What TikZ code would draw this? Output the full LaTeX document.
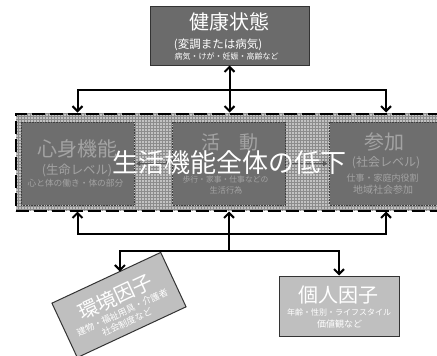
\documentclass[tikz,border=0pt]{standalone}
\usepackage{fontspec}
\setmainfont{Noto Sans CJK JP}
\usetikzlibrary{arrows.meta,patterns}
\newcommand{\fsz}[1]{\fontsize{#1}{#1}\selectfont}
\tikzset{
  conn/.style={line width=2pt,black},
  arr/.style={conn,-{Straight Barb[length=5pt,width=10pt]}},
  dblarr/.style={conn,{Straight Barb[length=5pt,width=10pt]}-{Straight Barb[length=5pt,width=10pt]}},
  linkarr/.style={line width=1.5pt,black!65,shorten <=2pt,shorten >=2pt,
    {Triangle[length=4pt,width=5pt]}-{Triangle[length=4pt,width=5pt]}},
  healthbox/.style={draw=black!80,line width=1pt,fill=black!58,inner sep=0pt,
    minimum width=159pt,minimum height=59pt},
  lifeband/.style={draw=black,line width=2pt,dash pattern=on 13pt off 5pt,
    preaction={fill=black!24},pattern=grid,pattern color=black!45,inner sep=0pt,
    minimum width=434pt,minimum height=97pt},
  funcbox/.style={draw=black!75,line width=0.6pt,densely dotted,fill=black!57,inner sep=0pt,
    minimum width=113pt,minimum height=83pt},
  factorbox/.style={draw=black!80,line width=1pt,fill=black!25,inner sep=0pt,
    minimum width=120pt,minimum height=60pt},
  functxt/.style={text=black!36,inner sep=0pt},
  factxt/.style={text=white,inner sep=0pt},
  bigtxt/.style={text=white,inner sep=0pt,font=\fsz{26}},
}
\begin{document}
\begin{tikzpicture}[x=1pt,y=-1pt]
  \useasboundingbox (0,0) rectangle (437,356);
  \clip (0,0) rectangle (437,356);
  \fill[white] (0,0) rectangle (437,356);
  % health condition
  \node[healthbox] (health) at (229.5,35.5) {};
  \node[factxt,font=\fsz{20}] (health-a) at (229.5,22) {健康状態};
  \node[factxt,font=\fsz{11.5}] (health-b) at (218,45) {(変調または病気)};
  \node[factxt,font=\fsz{8}] (health-c) at (226.5,56) {病気・けが・妊娠・高齢など};
  % functioning band with its three levels
  \node[lifeband] (life) at (233,162) {};
  \node[funcbox] (body) at (77.5,163.5) {};
  \node[funcbox] (act) at (229,163.5) {};
  \node[funcbox] (part) at (386,163.5) {};
  \node[functxt,font=\fsz{20}] (body-a) at (77.5,149) {心身機能};
  \node[functxt,font=\fsz{12.4}] (body-b) at (77,170) {(生命レベル)};
  \node[functxt,font=\fsz{8.7}] (body-c) at (75.5,183) {心と体の働き・体の部分};
  \node[functxt,font=\fsz{19}] (act-a) at (230,142) {活　動};
  \node[functxt,font=\fsz{7.8}] (act-b) at (225.5,180) {歩行・家事・仕事などの};
  \node[functxt,font=\fsz{8.2}] (act-c) at (226,190) {生活行為};
  \node[functxt,font=\fsz{20}] (part-a) at (384,142) {参加};
  \node[functxt,font=\fsz{12}] (part-b) at (386,163) {(社会レベル)};
  \node[functxt,font=\fsz{9}] (part-c) at (382.5,178) {仕事・家庭内役割};
  \node[functxt,font=\fsz{10}] (part-d) at (383,190) {地域社会参加};
  \draw[linkarr] (body.east) -- (act.west);
  \draw[linkarr] (act.east) -- (part.west);
  \node[bigtxt] (decline) at (229.5,163) {生活機能全体の低下};
  % contextual factors
  \node[factorbox] (personal) at (339,306) {};
  \node[factxt,font=\fsz{20}] (personal-a) at (338,295) {個人因子};
  \node[factxt,font=\fsz{8}] (personal-b) at (339,312) {年齢・性別・ライフスタイル};
  \node[factxt,font=\fsz{9}] (personal-c) at (339.5,324) {価値観など};
  \begin{scope}[shift={(119,305)},rotate=25,transform shape]
    \node[factorbox] (env) at (0,0) {};
    \node[factxt,font=\fsz{20}] (env-a) at (0,-9) {環境因子};
    \node[factxt,font=\fsz{9}] (env-b) at (0,8) {建物・福祉用具・介護者};
    \node[factxt,font=\fsz{9}] (env-c) at (0,19) {社会制度など};
    \coordinate (envin) at (15,-30);
  \end{scope}
  % connectors
  \coordinate (topbar) at (0,90);
  \coordinate (botbar) at (0,234);
  \coordinate (splitbar) at (0,251);
  \draw[dblarr] (health.south) -- (health.south |- life.north);
  \draw[arr] (health.south |- topbar) -| (body.north |- life.north);
  \draw[arr] (health.south |- topbar) -| (part.north |- life.north);
  \draw[arr] (act.south |- botbar) -| (body.south |- life.south);
  \draw[arr] (act.south |- botbar) -| (part.south |- life.south);
  \draw[arr] (act.south |- splitbar) -- (act.south |- life.south);
  \draw[arr] (act.south |- splitbar) -| (envin);
  \draw[arr] (act.south |- splitbar) -| (personal.north);
\end{tikzpicture}
\end{document}
